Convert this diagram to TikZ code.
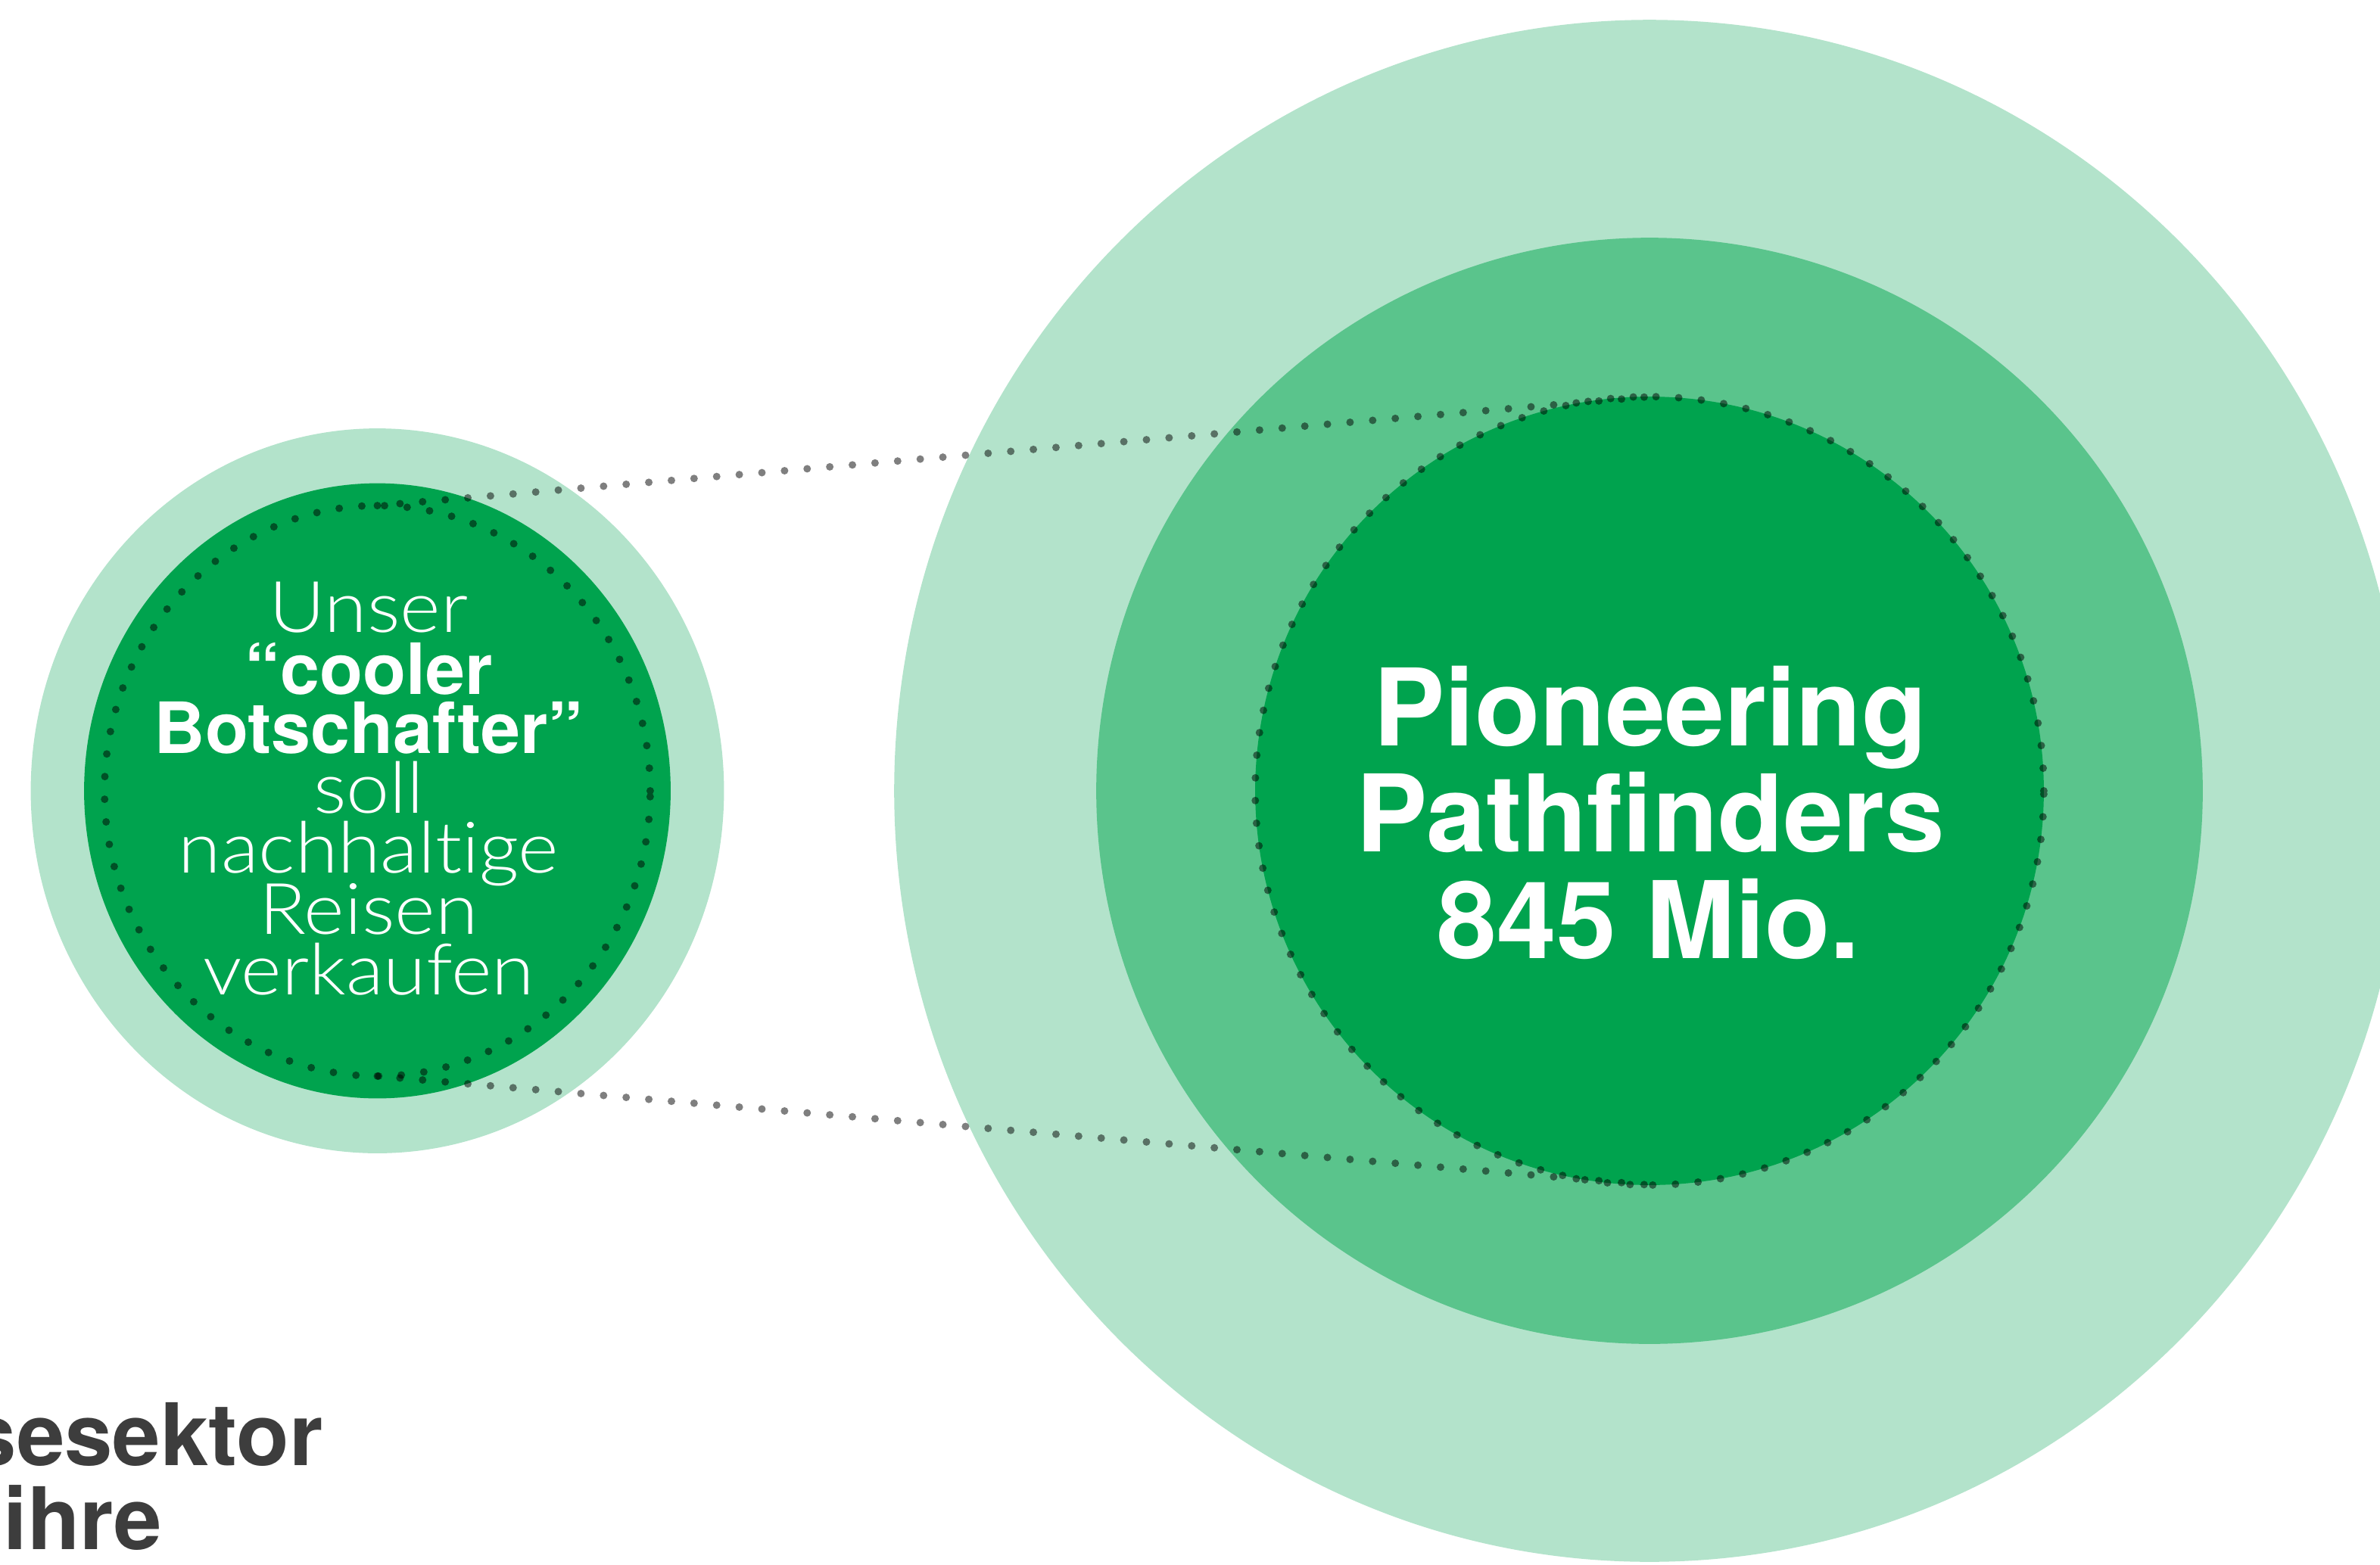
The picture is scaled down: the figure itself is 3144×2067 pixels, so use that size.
\documentclass[tikz,border=0pt]{standalone}
\usepackage{graphicx}
\usepackage{fontspec}
\setmainfont{TeX Gyre Heros}
\newfontfamily\lightfont{Lato-Light}[Extension=.ttf, RawFeature={-liga;-dlig}]
\usetikzlibrary{shapes.geometric}
\definecolor{lightg}{HTML}{B3E3CB}
\definecolor{midg}{HTML}{5AC48C}
\definecolor{darkg}{HTML}{00A34E}
\definecolor{txtgray}{HTML}{3D3D3D}
\newcommand\widelight[1]{\scalebox{1.09}[1]{#1}}
\tikzset{
  disc/.style={ellipse, inner sep=0pt, outer sep=0pt, draw=none},
  dotline/.style={draw=black, draw opacity=0.5, line width=5.69pt, line cap=round, dash pattern=on 0pt off 17.07pt},
  bigtxt/.style={text=white, font=\fontsize{80.5}{80}\selectfont\bfseries, anchor=base, inner sep=0pt},
  smalllight/.style={text=white, font=\lightfont\fontsize{53.5}{50}\selectfont, anchor=base, inner sep=0pt},
  smallbold/.style={text=white, font=\fontsize{53.2}{50}\selectfont\bfseries, anchor=base, inner sep=0pt},
  cornertxt/.style={text=txtgray, font=\fontsize{64.9}{65}\selectfont\bfseries, inner sep=0pt}
}
\begin{document}
\begin{tikzpicture}[x=0.02cm, y=-0.02cm]
\useasboundingbox (0,0) rectangle (3144,2067);
\clip (0,0) rectangle (3144,2067);
% big group
\node[disc, fill=lightg, minimum width=39.92cm, minimum height=40.76cm] (outer) at (2179,1045) {};
\node[disc, fill=midg, minimum width=29.24cm, minimum height=29.24cm] (middle) at (2179,1045) {};
\node[disc, fill=darkg, minimum width=20.84cm, minimum height=20.84cm] (inner) at (2179,1045) {};
% small group
\node[disc, fill=lightg, minimum width=18.32cm, minimum height=19.16cm] (smallouter) at (498.5,1045) {};
\node[disc, fill=darkg, minimum width=15.5cm, minimum height=16.26cm] (smallinner) at (498.5,1045) {};
% dotted outlines and connectors
\node[disc, dotline, minimum width=20.84cm, minimum height=20.84cm] (innerdots) at (2179,1045) {};
\node[disc, dotline, minimum width=14.42cm, minimum height=15.08cm] (smalldots) at (498.5,1045) {};
\draw[dotline] (smalldots.north) -- (innerdots.north);
\draw[dotline] (smalldots.south) -- (innerdots.south);
% texts small circle
\node[smalllight] (t1) at (487,835) {\widelight{Unser}};
\node[smallbold] (t2) at (487,917) {“cooler};
\node[smallbold] (t3) at (487,995) {Botschafter”};
\node[smalllight] (t4) at (487,1074) {\widelight{soll}};
\node[smalllight] (t5) at (487,1153) {\widelight{nachhaltige}};
\node[smalllight] (t6) at (487,1234) {\widelight{Reisen}};
\node[smalllight] (t7) at (487,1314) {\widelight{verkaufen}};
% texts big circle
\node[bigtxt] (p1) at (2180,985) {Pioneering};
\node[bigtxt] (p2) at (2180,1125) {Pathfinders};
\node[bigtxt] (p3) at (2178,1266) {845 Mio.};
% corner text
\node[cornertxt, anchor=base east] (b1) at (427,1936) {sesektor};
\node[cornertxt, anchor=base west] (b2) at (4,2047) {ihre};
\end{tikzpicture}
\end{document}
